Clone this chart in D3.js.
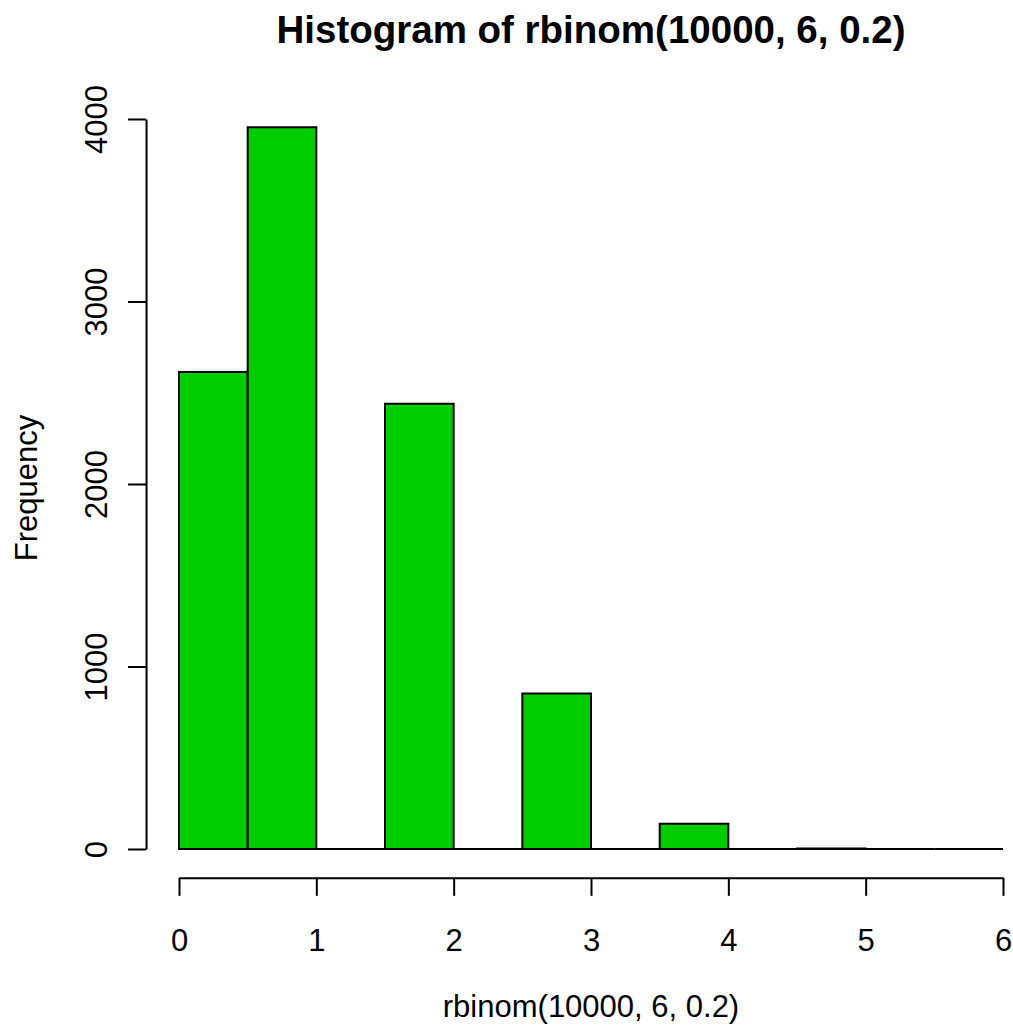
<!DOCTYPE html>
<html>
<head>
<meta charset="utf-8">
<script src="https://cdnjs.cloudflare.com/ajax/libs/d3/7.8.5/d3.min.js"></script>
<style>
  html, body { margin: 0; padding: 0; background: #fff; }
  svg { display: block; font-family: "Liberation Sans", Arial, sans-serif; }
</style>
</head>
<body>
<div id="wrapper"></div>
<script>
// histogram data
const breaks = [0, 0.5, 1, 1.5, 2, 2.5, 3, 3.5, 4, 4.5, 5, 5.5, 6];
const counts = [2614, 3955, 0, 2440, 0, 852, 0, 139, 0, 3, 0, 0];
const xTicks = [0, 1, 2, 3, 4, 5, 6];
const yTicks = [0, 1000, 2000, 3000, 4000];

const title = "Histogram of rbinom(10000, 6, 0.2)";
const xLabel = "rbinom(10000, 6, 0.2)";
const yLabel = "Frequency";

const bins = counts.map((c, i) => ({ x0: breaks[i], x1: breaks[i + 1], count: c }));

// Define dimensions
let dimensions = {
    width: 1013,
    height: 1028
}

const wrapper = d3.select("#wrapper")
    .append("svg")
        .attr("width", dimensions.width)
        .attr("height", dimensions.height)

// scales (R pads the range by 4% on each side)
const xScale = d3.scaleLinear()
    .domain([0, 6])
    .range([179, 1003])
const yScale = d3.scaleLinear()
    .domain([0, 4000])
    .range([849, 119])

const axisX = xScale(-0.24)     // left edge of plot region
const axisY = yScale(-158)      // bottom edge of plot region
const fontSize = 31

// bars: outlined paths so empty bins still show a line
wrapper.append("g")
    .selectAll("path")
    .data(bins)
    .join("path")
        .attr("d", d => {
            const p = d3.path()
            p.moveTo(xScale(d.x0), yScale(0))
            p.lineTo(xScale(d.x0), yScale(d.count))
            p.lineTo(xScale(d.x1), yScale(d.count))
            p.lineTo(xScale(d.x1), yScale(0))
            p.closePath()
            return p.toString()
        })
        .attr("fill", d => d.count > 0 ? "#00CD00" : "none")
        .attr("stroke", "black")
        .attr("stroke-width", 2)

// x axis
const xAxis = wrapper.append("g")
    .attr("transform", `translate(0, ${axisY})`)
    .call(d3.axisBottom(xScale).tickValues(xTicks).tickSizeInner(18).tickSizeOuter(0).tickFormat(d3.format("d")))
xAxis.select(".domain").attr("stroke-width", 2)
xAxis.selectAll(".tick line").attr("stroke-width", 2)
xAxis.selectAll(".tick text")
    .attr("y", 951 - axisY)
    .attr("dy", 0)
    .attr("fill", "black")
    .style("font-size", fontSize + "px")
    .style("font-family", "Liberation Sans, Arial, sans-serif")

// y axis
const yAxis = wrapper.append("g")
    .attr("transform", `translate(${axisX}, 0)`)
    .call(d3.axisLeft(yScale).tickValues(yTicks).tickSizeInner(18).tickSizeOuter(0).tickFormat(d3.format("d")))
yAxis.select(".domain").attr("stroke-width", 2)
yAxis.selectAll(".tick line").attr("stroke-width", 2)
yAxis.selectAll(".tick text")
    .attr("x", 0)
    .attr("y", 0)
    .attr("dy", 0)
    .attr("text-anchor", "middle")
    .attr("transform", `translate(${107 - axisX}, 0) rotate(-90)`)
    .attr("fill", "black")
    .style("font-size", fontSize + "px")
    .style("font-family", "Liberation Sans, Arial, sans-serif")

// headings
const centerX = (axisX + xScale(6.24)) / 2
const centerY = (axisY + yScale(4114)) / 2

wrapper.append("text")
    .attr("x", centerX)
    .attr("y", 43)
    .attr("text-anchor", "middle")
    .style("font-size", "38.5px")
    .style("font-weight", "bold")
    .text(title)

wrapper.append("text")
    .attr("x", centerX)
    .attr("y", 1017)
    .attr("text-anchor", "middle")
    .style("font-size", fontSize + "px")
    .text(xLabel)

wrapper.append("text")
    .attr("transform", `translate(37, ${centerY}) rotate(-90)`)
    .attr("text-anchor", "middle")
    .style("font-size", fontSize + "px")
    .text(yLabel)
</script>
</body>
</html>
